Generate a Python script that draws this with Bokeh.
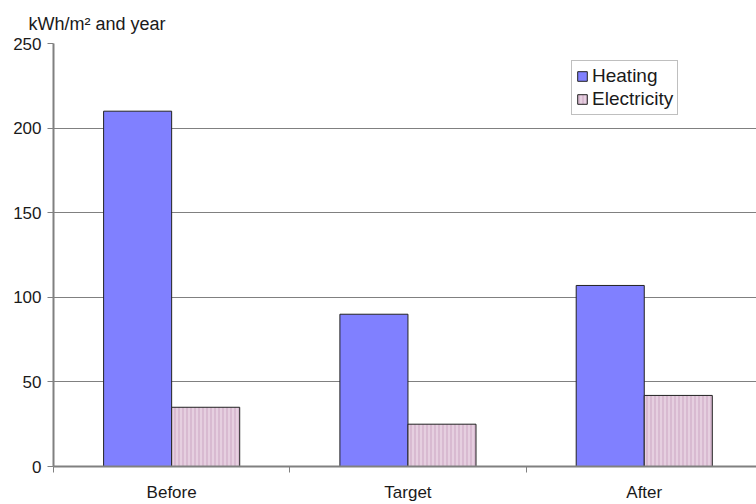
from bokeh.plotting import figure
from bokeh.models import Range1d, FixedTicker, Legend, LegendItem, ColumnDataSource
from bokeh.embed import file_html
from bokeh.resources import INLINE

categories = ["Before", "Target", "After"]
heating = [210, 90, 107]
electricity = [35, 25, 42]
y_ticks = [0, 50, 100, 150, 200, 250]
unit_label = "kWh/m² and year"

n = len(categories)
centers = [i + 0.5 for i in range(n)]
bw = 0.288

src = ColumnDataSource(dict(
    xh=[c - bw / 2 for c in centers],
    xe=[c + bw / 2 for c in centers],
    heating=heating,
    electricity=electricity,
))

FONT = "Liberation Sans"
TXT = "#1a1a1a"

p = figure(width=756, height=504, output_backend="svg", toolbar_location=None,
           x_range=Range1d(0, 2.975), y_range=Range1d(0, 250),
           min_border_left=53, min_border_right=0, min_border_top=43,
           min_border_bottom=38, title=unit_label)
p.title.text_font = FONT
p.title.text_font_size = "18px"
p.title.text_font_style = "normal"
p.title.text_color = TXT
p.title.align = "left"
p.title.offset = -25
p.title.standoff = 20
p.outline_line_color = None
p.background_fill_color = "white"

r1 = p.vbar(x="xh", top="heating", width=bw, source=src, fill_color="#8080ff",
            line_color="#222222", line_width=1)
r2 = p.vbar(x="xe", top="electricity", width=bw, source=src, fill_color="#e6cfe0",
            line_color="#222222", line_width=1, hatch_pattern="|",
            hatch_color="#c9a0bf", hatch_scale=4, hatch_weight=1, hatch_alpha=0.9)

# axes
p.xaxis.ticker = FixedTicker(ticks=centers, minor_ticks=list(range(n + 1)))
p.xaxis.major_label_overrides = {c: lab for c, lab in zip(centers, categories)}
p.xaxis.major_tick_line_color = None
p.xaxis.minor_tick_line_color = "#808080"
p.xaxis.minor_tick_in = 0
p.xaxis.minor_tick_out = 6
p.xaxis.axis_line_color = "#808080"
p.xaxis.axis_line_width = 2
p.xaxis.major_label_text_font = FONT
p.xaxis.major_label_text_font_size = "17px"
p.xaxis.major_label_text_color = TXT
p.xaxis.major_label_standoff = 10

p.yaxis.ticker = FixedTicker(ticks=y_ticks)
p.yaxis.major_tick_in = 0
p.yaxis.major_tick_out = 6
p.yaxis.minor_tick_line_color = None
p.yaxis.major_tick_line_color = "#808080"
p.yaxis.axis_line_color = "#808080"
p.yaxis.axis_line_width = 2
p.yaxis.major_label_text_font = FONT
p.yaxis.major_label_text_font_size = "17px"
p.yaxis.major_label_text_color = TXT
p.yaxis.major_label_standoff = 6

p.xgrid.grid_line_color = None
p.ygrid.grid_line_color = "#808080"
p.ygrid.grid_line_width = 1

legend = Legend(items=[LegendItem(label="Heating", renderers=[r1]),
                       LegendItem(label="Electricity", renderers=[r2])],
                location=(518, 351))
legend.glyph_width = 12
legend.glyph_height = 12
legend.label_text_font = FONT
legend.label_text_font_size = "19px"
legend.label_text_color = TXT
legend.border_line_color = "#808080"
legend.border_line_width = 1.5
legend.padding = 4
legend.spacing = 1
legend.margin = 0
legend.label_standoff = 4
legend.label_height = 19
legend.background_fill_alpha = 1
p.add_layout(legend)

open("out.html", "w").write(file_html(p, INLINE))
